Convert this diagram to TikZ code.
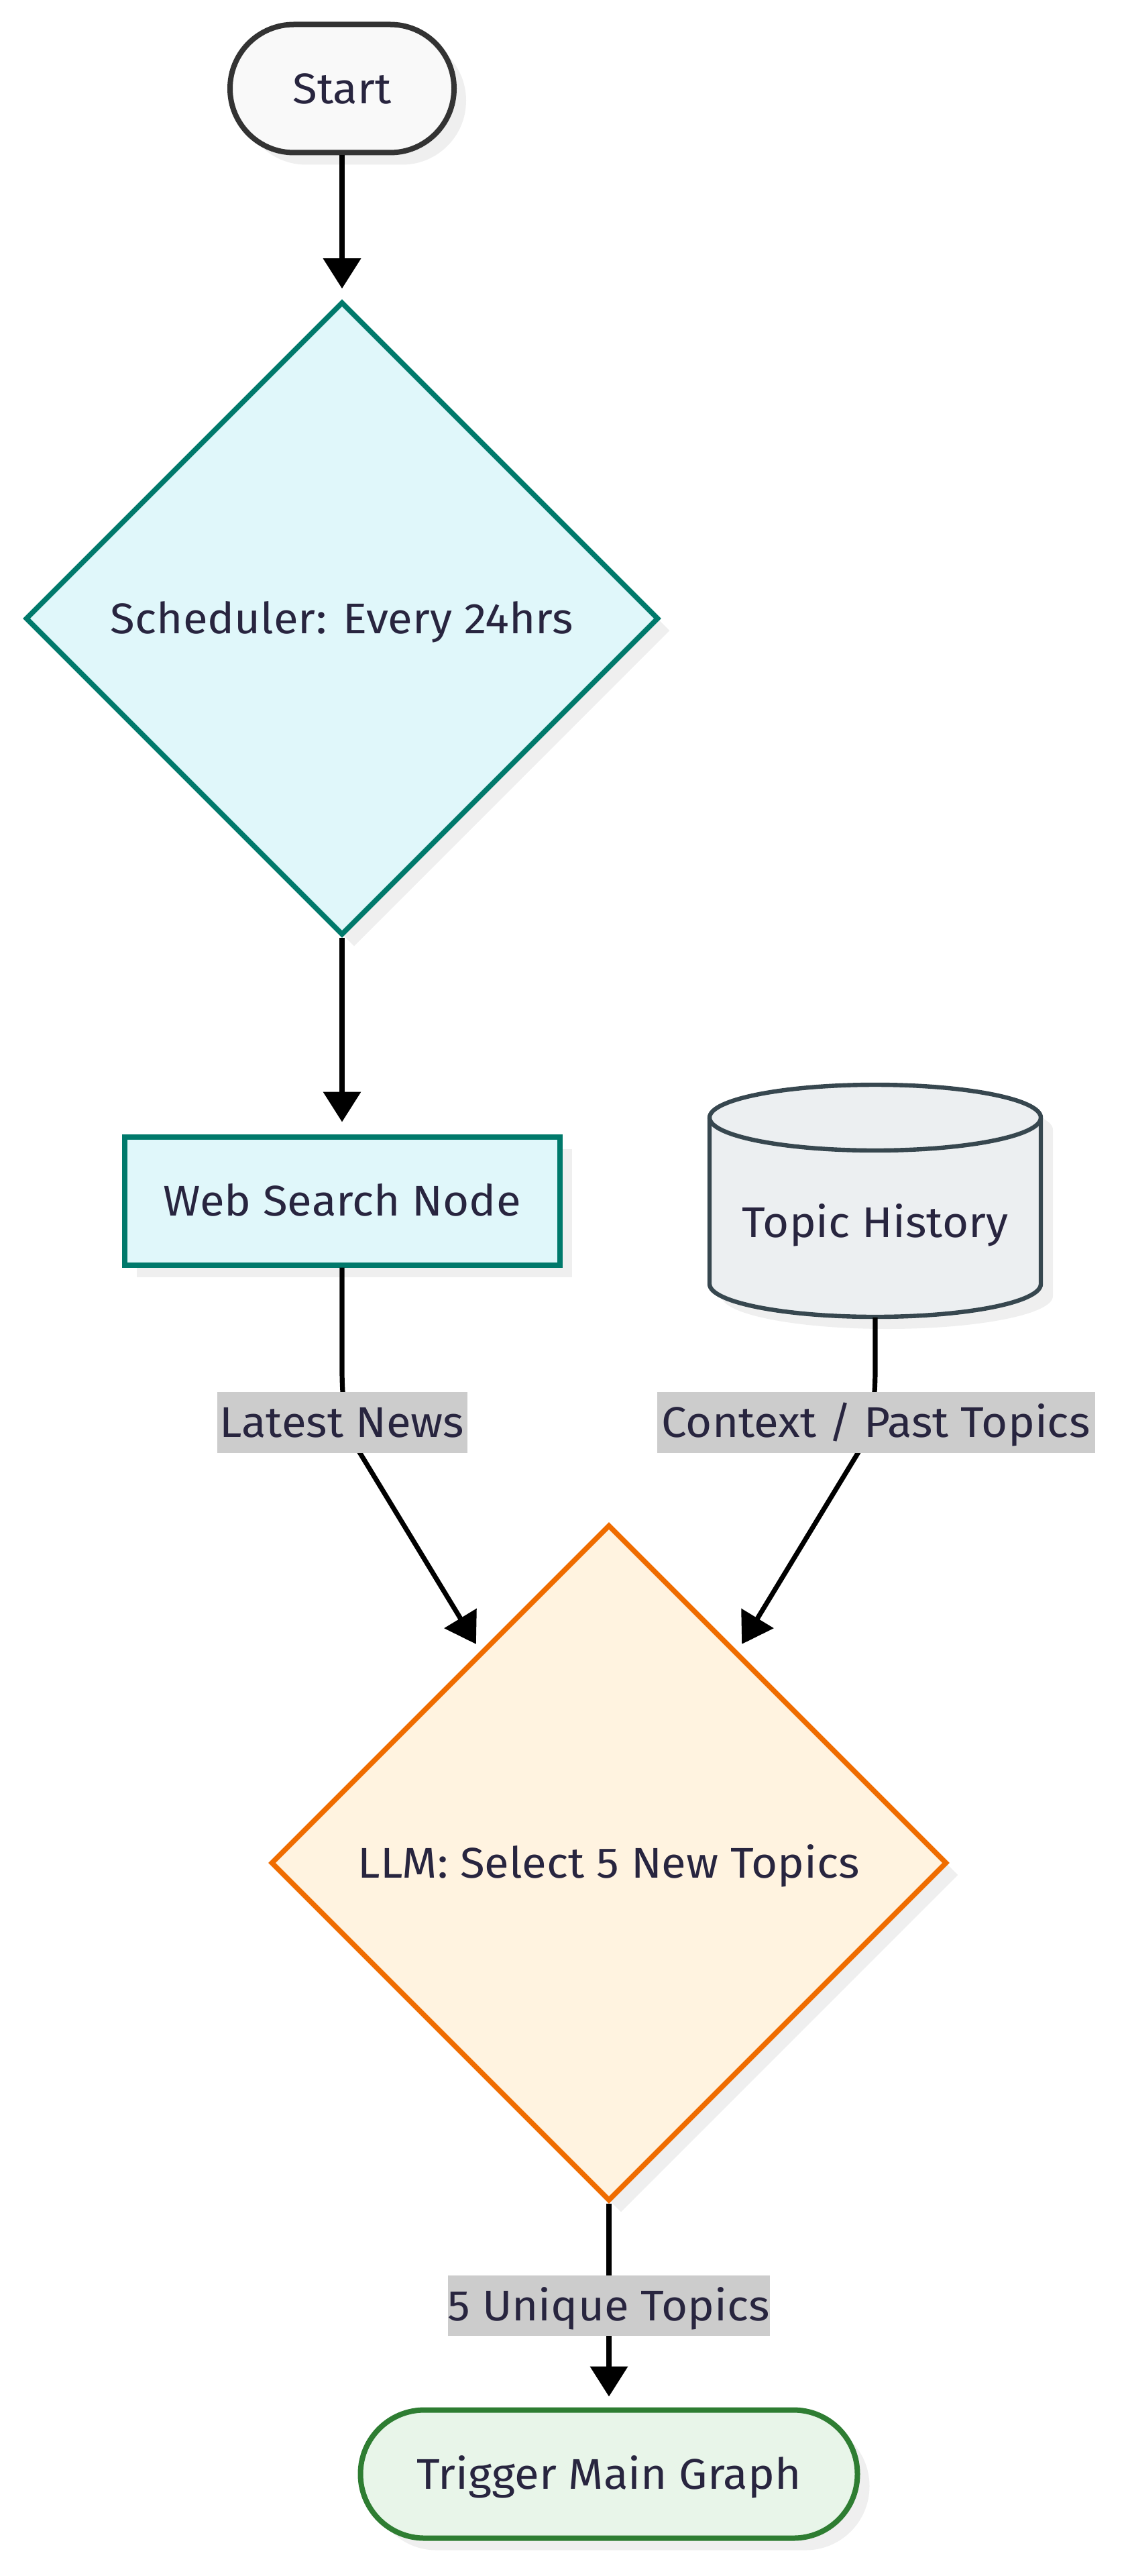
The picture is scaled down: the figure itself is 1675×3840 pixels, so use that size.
\documentclass[tikz,border=0pt]{standalone}
\usepackage{fontspec}
\setmainfont{Fira Sans}[FakeStretch=1.05]
\usetikzlibrary{shapes.geometric,arrows.meta,shadows}
\definecolor{txt}{HTML}{28253F}
\definecolor{startfill}{HTML}{F9F9F9}
\definecolor{startline}{HTML}{333333}
\definecolor{cyanfill}{HTML}{E0F7FA}
\definecolor{tealline}{HTML}{00796B}
\definecolor{histfill}{HTML}{ECEFF1}
\definecolor{histline}{HTML}{37474F}
\definecolor{orfill}{HTML}{FFF3E0}
\definecolor{orline}{HTML}{EF6C00}
\definecolor{grfill}{HTML}{E8F5E9}
\definecolor{grline}{HTML}{2E7D32}
\definecolor{lblgray}{HTML}{CCCCCC}
\definecolor{shadowgray}{HTML}{EFEFEF}
\begin{document}
\begin{tikzpicture}[x=0.25pt,y=-0.25pt,
  font=\fontsize{16pt}{19pt}\selectfont,
  shadowed/.style={drop shadow={shadow xshift=4.5pt,shadow yshift=-4.5pt,fill=shadowgray,opacity=1}},
  base/.style={text=txt,inner sep=0pt,text height=11.4pt,text depth=0pt,align=center},
  term/.style={base,shadowed,rectangle,rounded corners=23.8pt,line width=2pt},
  decision/.style={base,shadowed,diamond,aspect=1,line width=1.9pt},
  proc/.style={base,shadowed,rectangle,line width=2pt},
  elabel/.style={base,fill=lblgray,minimum height=22.75pt},
  conn/.style={line width=1.8pt,draw=black,-{Triangle[length=11.25pt,width=13.75pt]}}
]
\useasboundingbox (0,0) rectangle (1675,3840);

% nodes
\node[term,draw=startline,fill=startfill,minimum width=83.5pt,minimum height=47.75pt] (start) at (510,132) {Start};
\node[decision,draw=tealline,fill=cyanfill,minimum width=236pt,minimum height=236pt] (sched) at (510,922) {Scheduler: Every 24hrs};
\node[proc,draw=tealline,fill=cyanfill,minimum width=162.25pt,minimum height=47.75pt] (web) at (510,1790) {Web Search Node};

% cylinder
\begin{scope}[shift={(18,18)}]
\fill[shadowgray] (1058,1666) -- (1058,1914) arc[start angle=180,end angle=360,x radius=61.75pt,y radius=12.25pt] -- (1552,1666) arc[start angle=0,end angle=180,x radius=61.75pt,y radius=12.25pt] -- cycle;
\end{scope}
\path[fill=histfill,draw=histline,line width=1.6pt] (1058,1666) -- (1058,1914) arc[start angle=180,end angle=360,x radius=61.75pt,y radius=12.25pt] -- (1552,1666) arc[start angle=0,end angle=180,x radius=61.75pt,y radius=12.25pt] -- cycle;
\draw[draw=histline,line width=1.6pt] (1058,1666) arc[start angle=180,end angle=360,x radius=61.75pt,y radius=12.25pt];
\node[inner sep=0pt,minimum width=123.5pt,minimum height=87pt] (hist) at (1305,1789) {};
\node[base] (histtext) at (1305,1822) {Topic History};

\node[decision,draw=orline,fill=orfill,minimum width=252pt,minimum height=252pt] (llm) at (908,2777) {LLM: Select 5 New Topics};
\node[term,draw=grline,fill=grfill,minimum width=185.25pt,minimum height=47.75pt] (trig) at (908,3688) {Trigger Main Graph};

% connectors
\draw[conn,shorten >=4pt] (start.south) -- (sched.north);
\draw[conn,shorten >=4.5pt] (sched.south) -- (web.north);
\draw[conn,shorten >=3pt] (web.south) -- (510,2040) .. controls (510,2110) and (520,2140) .. (538,2168) -- (llm);
\draw[conn,shorten >=3pt] (hist.south) -- (1305,2040) .. controls (1305,2110) and (1295,2140) .. (1278,2168) -- (llm);
\draw[conn,shorten >=4pt] (llm.south) -- (trig.north);

% edge labels
\node[elabel,minimum width=93.25pt] (l1) at (510,2120) {Latest News};
\node[elabel,minimum width=163.25pt] (l2) at (1306,2120) {Context / Past Topics};
\node[elabel,minimum width=117pt,minimum height=22.5pt] (l3) at (908,3437) {5 Unique Topics};
\end{tikzpicture}
\end{document}
